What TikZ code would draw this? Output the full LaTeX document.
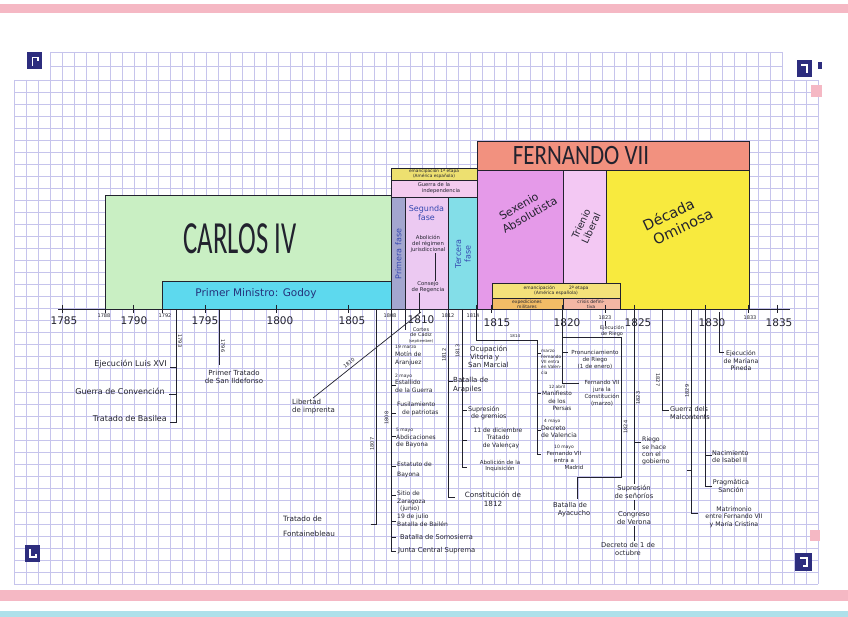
\documentclass[tikz,border=0pt]{standalone}
\usepackage{fontspec}
\usepackage{graphicx}
\setmainfont{DejaVu Sans}
\newfontfamily\titlefont{Carlito}
\definecolor{cgreen}{HTML}{C9EFC3}
\definecolor{ccyan}{HTML}{5DD9EE}
\definecolor{cemy}{HTML}{EDE070}
\definecolor{cguerra}{HTML}{F3CBEF}
\definecolor{cprim}{HTML}{A3A6CF}
\definecolor{cseg}{HTML}{ECC9F2}
\definecolor{cter}{HTML}{83DEE8}
\definecolor{cfer}{HTML}{F2917F}
\definecolor{csex}{HTML}{E59AE9}
\definecolor{ctri}{HTML}{F3C8F3}
\definecolor{cdec}{HTML}{F8EA3E}
\definecolor{cemyb}{HTML}{F4E17A}
\definecolor{cexp}{HTML}{F2BC66}
\definecolor{ccri}{HTML}{F4B7A4}
\definecolor{gridc}{HTML}{C6C4EC}
\definecolor{navy}{HTML}{2D2D7E}
\definecolor{pinkband}{HTML}{F5B8C4}
\definecolor{cyanband}{HTML}{AEE0EA}
\definecolor{inkc}{HTML}{22222E}
\definecolor{fblue}{HTML}{3548B0}
\begin{document}
\begin{tikzpicture}[x=1pt,y=-1pt,
  box/.style={draw=inkc, line width=0.7pt},
  ln/.style={draw=inkc, line width=0.7pt},
  gl/.style={draw=gridc, line width=0.5pt},
  hand/.style={inner sep=0pt, text=inkc, align=left, font=\fontsize{6}{7}\selectfont},
  handc/.style={hand, align=center},
  yrbig/.style={inner sep=0pt, text=inkc, font=\fontsize{10.5}{10.5}\selectfont},
  yrsmall/.style={inner sep=0pt, text=inkc, font=\fontsize{5}{5}\selectfont},
  yrup/.style={yrsmall, rotate=90},
  yrdown/.style={yrsmall, rotate=-90},
  bluetxt/.style={inner sep=0pt, text=fblue, align=center, font=\fontsize{8}{9}\selectfont},
]
\useasboundingbox (0,0) rectangle (848,617);
\fill[white] (0,0) rectangle (848,617);
% paper bands
\fill[pinkband] (0,4) rectangle (848,13);
\fill[pinkband] (0,590) rectangle (848,601);
\fill[cyanband] (0,611) rectangle (848,617);
% grid
\foreach \i in {0,...,61} \draw[gl] ({50+12*\i},52) -- ({50+12*\i},80);
\draw[gl] (50,52) -- (782,52);
\draw[gl] (50,66) -- (782,66);
\foreach \i in {0,...,67} \draw[gl] ({14+12*\i},80) -- ({14+12*\i},584);
\foreach \j in {0,...,42} \draw[gl] (14,{80+12*\j}) -- (818,{80+12*\j});
% corner marks
\fill[navy] (27,52) rectangle (42,69);
\draw[white, line width=1.8pt] (32.5,66) -- (32.5,57.5) -- (38,57.5) -- (38,61);
\fill[navy] (797,60) rectangle (812,77);
\draw[white, line width=1.8pt] (801,65) -- (807,65) -- (807,73);
\fill[navy] (818,62) rectangle (822,69);
\fill[pinkband] (811,85) rectangle (822,97);
\fill[navy] (25,545) rectangle (40,562);
\draw[white, line width=1.8pt] (30,549) -- (30,557) -- (36,557) -- (36,554);
\fill[navy] (795,553) rectangle (812,571);
\draw[white, line width=1.8pt] (800,558) -- (807,558) -- (807,566) -- (803,566);
\fill[pinkband] (810,530) rectangle (820,541);

% ===== period boxes =====
\filldraw[box, fill=cgreen] (105,195) rectangle (391,309);
\filldraw[box, fill=ccyan] (162,281) rectangle (391,309);
\filldraw[box, fill=cemy] (391,168) rectangle (477,180);
\filldraw[box, fill=cguerra] (391,180) rectangle (477,197);
\filldraw[box, fill=cprim] (391,197) rectangle (405,309);
\filldraw[box, fill=cseg] (405,197) rectangle (448,309);
\filldraw[box, fill=cter] (448,197) rectangle (477,309);
\filldraw[box, fill=cfer] (477,141) rectangle (749,170);
\filldraw[box, fill=csex] (477,170) rectangle (563,309);
\filldraw[box, fill=ctri] (563,170) rectangle (606,309);
\filldraw[box, fill=cdec] (606,170) rectangle (749,309);
\filldraw[box, fill=cemyb] (492,283) rectangle (620,298);
\filldraw[box, fill=cexp] (492,298) rectangle (563,309);
\filldraw[box, fill=ccri] (563,298) rectangle (620,309);

\node[inner sep=0pt, text=inkc] (carlos) at (240,239) {\titlefont\fontsize{46}{46}\selectfont\scalebox{0.58}[1]{CARLOS IV}};
\node[inner sep=0pt, text=fblue!70!black, font=\fontsize{10.5}{11}\selectfont] (godoy) at (256,294) {Primer Ministro: Godoy};
\node[inner sep=0pt, text=inkc] (fernando) at (581,156) {\titlefont\fontsize{28}{28}\selectfont\scalebox{0.82}[1]{FERNANDO VII}};
\node[handc, font=\fontsize{4.3}{4.8}\selectfont] (emanc1) at (434,174) {emancipación 1ª etapa\\(América española)};
\node[handc, font=\fontsize{5.2}{6}\selectfont] (guerra) at (434,188.5) {Guerra de la\\\hspace*{14pt}independencia};
\node[bluetxt, rotate=90, font=\fontsize{8}{9}\selectfont] (fase1) at (398.5,254) {Primera fase};
\node[bluetxt] (fase2) at (426.5,213) {Segunda\\fase};
\node[handc, font=\fontsize{5.3}{6.3}\selectfont] (abol) at (428,244) {Abolición\\del régimen\\jurisdiccional};
\node[handc, font=\fontsize{5.3}{6.3}\selectfont] (regencia) at (428,287) {Consejo\\de Regencia};
\node[bluetxt, rotate=90, font=\fontsize{8}{9.5}\selectfont] (fase3) at (463,254) {Tercera\\fase};
\node[handc, rotate=30, font=\fontsize{11}{13}\selectfont] (sexenio) at (522,212) {Sexenio\\\hspace*{10pt}Absolutista};
\node[handc, rotate=65, font=\fontsize{9.5}{11}\selectfont] (trienio) at (586,226) {Trienio\\Liberal};
\node[handc, rotate=25, font=\fontsize{14.5}{17}\selectfont] (decada) at (672,222) {Década\\\hspace*{16pt}Ominosa};
\node[handc, font=\fontsize{4.5}{5.5}\selectfont] (emanc2) at (556,290.5) {emancipación\hspace{14pt}2ª etapa\\(América española)};
\node[handc, font=\fontsize{4.5}{5}\selectfont] (exped) at (527,304) {expediciones\\militares};
\node[handc, font=\fontsize{4.5}{5}\selectfont] (crisis) at (591,304) {crisis defini-\\tiva};
% connectors inside segunda fase
\draw[ln] (abol.south -| 435,0) -- (regencia.north -| 435,0);
\draw[ln] (regencia.south -| 419,0) -- (419,309);

% ===== axis =====
\coordinate (a0) at (58,309);
\coordinate (a1) at (790,309);
\draw[ln, line width=0.9pt] (a0) -- (a1);
\foreach \x in {62,105,133.5,162,205,276.5,348,391,419.5,448,476.7,491,562.5,605.4,634,705.5,748.4,777}
  \draw[ln] (\x,305) -- (\x,313);
\node[yrbig] (t1785) at (64,321) {1785};
\node[yrbig] (t1790) at (134,321) {1790};
\node[yrbig] (t1795) at (205,321) {1795};
\node[yrbig] (t1800) at (280,321) {1800};
\node[yrbig] (t1805) at (352,321) {1805};
\node[yrbig] (t1810) at (421,319.5) {1810};
\node[yrbig] (t1815) at (497,323) {1815};
\node[yrbig] (t1820) at (567,323) {1820};
\node[yrbig] (t1825) at (638,323) {1825};
\node[yrbig] (t1830) at (712,323) {1830};
\node[yrbig] (t1835) at (779,323) {1835};
\node[yrsmall] (t1788) at (104,315.5) {1788};
\node[yrsmall] (t1792) at (165,315.5) {1792};
\node[yrsmall] (t1808) at (390,315.5) {1808};
\node[yrsmall] (t1812) at (448,316) {1812};
\node[yrsmall] (t1814) at (473,316) {1814};
\node[yrsmall] (t1823) at (605,317.5) {1823};
\node[yrsmall] (t1833) at (750,317.5) {1833};

% ===== named anchors on the axis =====
\coordinate (y1793) at (176.4,309);
\coordinate (y1796) at (219.3,309);
\coordinate (y1807) at (376.6,309);
\coordinate (y1808) at (391,309);
\coordinate (y1810) at (421,312);
\coordinate (y1812) at (448.1,309);
\coordinate (y1813) at (462.4,309);
\coordinate (y1814) at (476.7,309);
\coordinate (y1820) at (562.5,309);
\coordinate (y1825) at (634,309);
\coordinate (y1827) at (662.6,309);
\coordinate (y1829) at (691.2,309);
\coordinate (y1830) at (705.5,309);
\coordinate (y1831) at (719.8,312);

% ===== events: Carlos IV =====
\node[hand, anchor=east, font=\fontsize{8}{9}\selectfont] (luis) at (167,364) {Ejecución Luis XVI};
\node[hand, anchor=east, font=\fontsize{8}{9}\selectfont] (conv) at (165,391) {Guerra de Convención};
\node[hand, anchor=east, font=\fontsize{8}{9}\selectfont] (basilea) at (167,419) {Tratado de Basilea};
\draw[ln] (y1793) -- ++(0,113) -- ++(-6,0);
\draw[ln] (y1793 |- 0,367) -- ++(-6,0);
\draw[ln] (y1793 |- 0,394) -- ++(-7,0);
\node[yrdown] (l1793) at (180,341) {1793};
\draw[ln] (y1796) -- ++(0,56);
\node[yrdown] (l1796) at (223,346) {1796};
\node[handc, font=\fontsize{7}{8}\selectfont] (ildef) at (234,377) {Primer Tratado\\de San Ildefonso};
\node[hand, anchor=north west, font=\fontsize{7}{8.3}\selectfont] (libertad) at (292,399) {Libertad\\de imprenta};
\draw[ln] (y1810) -- (313,398);
\node[yrsmall, rotate=37] (l1810d) at (349,363) {1810};
\node[hand, anchor=north west, font=\fontsize{7.3}{15}\selectfont] (fontaine) at (283,516) {Tratado de\\Fontainebleau};
\draw[ln] (y1807) -- ++(0,215) -- ++(-6,0);
\node[yrup] (l1807) at (372,444) {1807};

% ===== 1808 =====
\draw[ln] (y1808) -- ++(0,242);
\foreach \yy in {385,413,436,466,495,521,537,551} \draw[ln] (y1808 |- 0,\yy) -- ++(5,0);
\node[yrup] (l1808) at (386.5,418) {1808};
\draw[ln] (405,310) -- (405,330);
\node[handc, font=\fontsize{5}{5.8}\selectfont] (cortes) at (421,335.5) {Cortes\\de Cádiz\\{\fontsize{3.8}{4}\selectfont(septiembre)}};
\node[hand, anchor=north west, font=\fontsize{6}{8}\selectfont] (motin) at (395,345) {{\fontsize{4.5}{5}\selectfont 19 marzo}\\Motín de\\Aranjuez};
\node[hand, anchor=north west, font=\fontsize{6}{7.6}\selectfont] (estallido) at (395,373.5) {{\fontsize{4.5}{5}\selectfont 2 mayo}\\Estallido\\de la Guerra};
\node[hand, anchor=north west, font=\fontsize{6}{7.6}\selectfont] (fusil) at (397,402) {Fusilamiento\\\hspace*{5pt}de patriotas};
\node[hand, anchor=north west, font=\fontsize{6}{7.6}\selectfont] (abdic) at (396,428) {{\fontsize{4.5}{5}\selectfont 5 mayo}\\Abdicaciones\\de Bayona};
\node[hand, anchor=north west, font=\fontsize{6}{10}\selectfont] (estatuto) at (397,462) {Estatuto de\\Bayona};
\node[hand, anchor=north west, font=\fontsize{6}{7.3}\selectfont] (sitio) at (397,491) {Sitio de\\Zaragoza\\\hspace*{3pt}(junio)};
\node[hand, anchor=north west, font=\fontsize{6}{7.3}\selectfont] (bailen) at (397,514) {19 de julio\\Batalla de Bailén};
\node[hand, anchor=west, font=\fontsize{6.6}{7}\selectfont] (somos) at (400,537.5) {Batalla de Somosierra};
\node[hand, anchor=west, font=\fontsize{6.8}{7}\selectfont] (junta) at (398,551) {Junta Central Suprema};

% ===== 1812 / 1813 =====
\draw[ln] (y1812) -- ++(0,188) -- ++(7,0);
\draw[ln] (y1812 |- 0,381) -- ++(5,0);
\node[yrup] (l1812) at (444,355) {1812};
\node[hand, anchor=north west, font=\fontsize{7}{8.5}\selectfont] (arapiles) at (453,377) {Batalla de\\Arapiles};
\node[handc, font=\fontsize{7.2}{8.7}\selectfont] (constit) at (493,499) {Constitución de\\1812};
\draw[ln] (y1813) -- ++(0,158) -- ++(5,0);
\draw[ln] (y1813 |- 0,410) -- ++(5,0);
\draw[ln] (y1813 |- 0,440) -- ++(5,0);
\node[yrup] (l1813) at (457.5,351) {1813};
\node[hand, anchor=north west, font=\fontsize{7}{8.3}\selectfont] (vitoria) at (468,345.5) {\hspace*{2pt}Ocupación\\\hspace*{2pt}Vitoria y\\San Marcial};
\node[hand, anchor=north west, font=\fontsize{6.3}{7.6}\selectfont] (gremios) at (468,406) {Supresión\\\hspace*{3pt}de gremios};
\node[handc, font=\fontsize{6}{7.4}\selectfont] (valencay) at (498,438) {11 de diciembre\\Tratado\\\hspace*{6pt}de Valençay};
\node[handc, font=\fontsize{5.5}{6.7}\selectfont] (inquis) at (500,466) {Abolición de la\\Inquisición};

% ===== 1814 =====
\draw[ln] (y1814) -- ++(0,31) -- (537,340) -- (537,454) -- ++(4,0);
\foreach \yy in {353,393,430} \draw[ln] (537,\yy) -- ++(4,0);
\node[yrsmall, font=\fontsize{4}{4}\selectfont] (l1814) at (515,336) {1814};
\node[hand, anchor=north west, font=\fontsize{4.3}{5.4}\selectfont] (fvalencia) at (541,350) {marzo\\Fernando\\VII entra\\en Valen-\\cia};
\node[handc, font=\fontsize{5.8}{7.3}\selectfont] (persas) at (557,398) {{\fontsize{4.3}{5}\selectfont 12 abril}\\Manifiesto\\de los\\\hspace*{10pt}Persas};
\node[hand, anchor=north west, font=\fontsize{6.2}{7.8}\selectfont] (decreto) at (541,419) {{\fontsize{4.3}{5}\selectfont\hspace*{3pt}4 mayo}\\Decreto\\de Valencia};
\node[handc, font=\fontsize{5.5}{7}\selectfont] (madrid) at (564,457) {{\fontsize{4.5}{5}\selectfont 10 mayo}\\Fernando VII\\entra a\\\hspace*{20pt}Madrid};

% ===== 1820 - 1825 =====
\draw[ln] (y1820) -- ++(0,74) -- ++(16,0);
\draw[ln] (y1820 |- 0,352) -- ++(5,0);
\draw[ln] (y1820 |- 0,337) -- (621,337) -- (621,477) -- (577,477) -- (577,499);
\node[handc, font=\fontsize{5.6}{7}\selectfont] (pronunc) at (595,360) {Pronunciamiento\\de Riego\\(1 de enero)};
\node[handc, font=\fontsize{5.6}{7}\selectfont] (jura) at (602,393) {Fernando VII\\jura la\\Constitución\\(marzo)};
\draw[ln] (605.4,321) -- (605.4,326);
\node[handc, font=\fontsize{5}{6}\selectfont] (ejriego) at (612,331.5) {Ejecución\\de Riego};
\node[yrup] (l1824) at (625.5,427) {1824};
\node[handc, font=\fontsize{6.7}{8.2}\selectfont] (ayacucho) at (570,510) {Batalla de\\\hspace*{8pt}Ayacucho};
\draw[ln] (y1825) -- ++(0,175);
\draw[ln] (634,500) -- (634,510);
\draw[ln] (634,526) -- (634,541);
\draw[ln] (y1825 |- 0,442) -- ++(7,0);
\node[yrup] (l1823) at (638,398) {1823};
\node[hand, anchor=north west, font=\fontsize{6.2}{7.2}\selectfont] (riegogob) at (642,437) {Riego\\se hace\\con el\\gobierno};
\node[handc, font=\fontsize{6.7}{8.2}\selectfont] (senorios) at (634,492) {Supresión\\de señoríos};
\node[handc, font=\fontsize{6.7}{8.2}\selectfont] (verona) at (634,518) {Congreso\\de Verona};
\node[handc, font=\fontsize{6.7}{8.2}\selectfont] (octubre) at (628,549) {Decreto de 1 de\\octubre};

% ===== 1827 - 1831 =====
\draw[ln] (y1827) -- ++(0,101) -- ++(6,0);
\node[yrdown] (l1827) at (658,380) {1827};
\node[hand, anchor=north west, font=\fontsize{6.5}{8.2}\selectfont] (malcont) at (670,406) {Guerra dels\\Malcontents};
\draw[ln] (y1829) -- ++(0,204) -- ++(7,0);
\draw[ln] (y1829 |- 0,470) -- ++(-4,0);
\node[yrup] (l1829) at (687,391) {1829};
\node[handc, font=\fontsize{6.2}{7.5}\selectfont] (matrim) at (734,517) {Matrimonio\\entre Fernando VII\\y María Cristina};
\draw[ln] (y1830) -- ++(0,177) -- ++(6,0);
\draw[ln] (y1830 |- 0,455) -- ++(6,0);
\node[hand, anchor=north west, font=\fontsize{6.4}{7.8}\selectfont] (isabel) at (712,450) {Nacimiento\\de Isabel II};
\node[handc, font=\fontsize{6.4}{7.8}\selectfont] (pragm) at (731,486) {Pragmática\\Sanción};
\draw[ln] (y1831) -- ++(0,40) -- ++(4,0);
\node[handc, font=\fontsize{6.2}{7.5}\selectfont] (pineda) at (741,361) {Ejecución\\de Mariana\\Pineda};
\end{tikzpicture}
\end{document}
